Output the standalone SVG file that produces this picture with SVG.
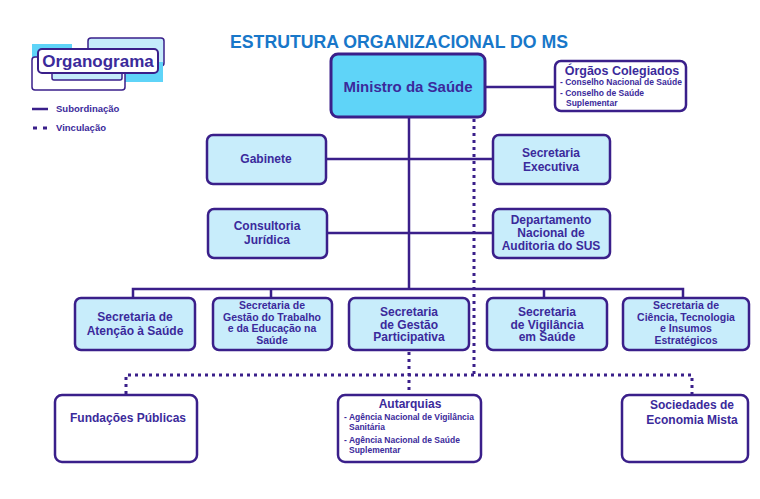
<svg xmlns="http://www.w3.org/2000/svg" width="760" height="499" viewBox="0 0 760 499">
<style>
text{font-family:"Liberation Sans",Arial,sans-serif;font-weight:bold;fill:#3b2a9b}
.box{fill:#c8edfb;stroke:#3a1f8a;stroke-width:2.5}
.wbox{fill:#ffffff;stroke:#3a1f8a;stroke-width:2.5}
.lbl{font-size:12px;text-anchor:middle}
.tight{font-size:10.5px;text-anchor:middle}
.small{font-size:8.5px}
.solid{stroke:#3a1f8a;stroke-width:2.5;fill:none}
.dot{stroke:#3a1f8a;stroke-width:3;fill:none;stroke-dasharray:3 4}
</style>
<rect width="760" height="499" fill="#ffffff"/>
<g id="logo">
<rect x="32" y="44" width="40" height="26" fill="#5fd4f8"/>
<rect x="88" y="38" width="76" height="28" rx="3" fill="#c5ecfb" stroke="#3a1f8a" stroke-width="1.5"/>
<rect x="113" y="62" width="50" height="20" fill="#5fd4f8"/>
<rect x="32" y="57" width="93" height="33" rx="3" fill="#ffffff" stroke="#3a1f8a" stroke-width="1.5"/>
<rect x="52" y="66" width="70" height="14" rx="2" fill="#c5ecfb" stroke="#3a1f8a" stroke-width="1.5"/>
<rect x="38" y="49" width="120" height="24" rx="4" fill="#ffffff" stroke="#3a1f8a" stroke-width="2"/>
<text x="98" y="67" font-size="17" text-anchor="middle">Organograma</text>
</g>
<g id="legend">
<line x1="32" y1="109" x2="48" y2="109" stroke="#3a1f8a" stroke-width="2.5"/>
<text x="56" y="112" font-size="9.5">Subordinação</text>
<line x1="33" y1="128" x2="48" y2="128" stroke="#3a1f8a" stroke-width="3" stroke-dasharray="4 6"/>
<text x="56" y="131" font-size="9.5">Vinculação</text>
</g>
<text id="title" x="399" y="48" font-size="18" text-anchor="middle" style="fill:#1877c9" textLength="338" lengthAdjust="spacingAndGlyphs">ESTRUTURA ORGANIZACIONAL DO MS</text>
<g id="connectors">
<line class="solid" x1="485" y1="87" x2="555" y2="87"/>
<line class="solid" x1="409" y1="117" x2="409" y2="289"/>
<line class="solid" x1="326" y1="159" x2="493" y2="159"/>
<line class="solid" x1="327" y1="233" x2="493" y2="233"/>
<polyline class="solid" points="133,298 133,289 683,289 683,298"/>
<line class="solid" x1="271" y1="289" x2="271" y2="298"/>
<line class="solid" x1="544" y1="289" x2="544" y2="298"/>
<line class="dot" x1="474" y1="119" x2="474" y2="375"/>
<line class="dot" x1="409" y1="352" x2="409" y2="394"/>
<polyline class="dot" points="126,394 126,375 692,375 692,394"/>
</g>
<g id="ministro">
<rect x="331" y="54" width="154" height="63" rx="7" fill="#5fd4f8" stroke="#3a1f8a" stroke-width="3"/>
<text x="408" y="92" font-size="15" text-anchor="middle">Ministro da Saúde</text>
</g>
<g id="orgaos">
<rect class="wbox" x="555" y="61" width="131" height="50" rx="6"/>
<text x="622" y="75" font-size="12.5" text-anchor="middle">Órgãos Colegiados</text>
<text class="small" x="560" y="85">- Conselho Nacional de Saúde</text>
<text class="small" x="560" y="96">- Conselho de Saúde</text>
<text class="small" x="566" y="106">Suplementar</text>
</g>
<g id="gabinete">
<rect class="box" x="207" y="135" width="119" height="49" rx="6"/>
<text class="lbl" x="266" y="163">Gabinete</text>
</g>
<g id="secexec">
<rect class="box" x="493" y="135" width="117" height="49" rx="6"/>
<text class="lbl" x="551" y="157">Secretaria</text>
<text class="lbl" x="551" y="171">Executiva</text>
</g>
<g id="consultoria">
<rect class="box" x="208" y="209" width="119" height="49" rx="6"/>
<text class="lbl" x="267" y="230">Consultoria</text>
<text class="lbl" x="267" y="244">Jurídica</text>
</g>
<g id="denasus">
<rect class="box" x="493" y="209" width="117" height="49" rx="6"/>
<text class="lbl" x="551" y="224">Departamento</text>
<text class="lbl" x="551" y="237">Nacional de</text>
<text class="lbl" x="551" y="250">Auditoria do SUS</text>
</g>
<g id="sas">
<rect class="box" x="75" y="298" width="120" height="52" rx="6"/>
<text class="lbl" x="135" y="321">Secretaria de</text>
<text class="lbl" x="135" y="335">Atenção à Saúde</text>
</g>
<g id="sgtes">
<rect class="box" x="213" y="298" width="119" height="52" rx="6"/>
<text class="tight" x="272" y="309">Secretaria de</text>
<text class="tight" x="272" y="320.5">Gestão do Trabalho</text>
<text class="tight" x="272" y="332">e da Educação na</text>
<text class="tight" x="272" y="343.5">Saúde</text>
</g>
<g id="sgep">
<rect class="box" x="349" y="298" width="120" height="52" rx="6"/>
<text class="lbl" x="409" y="316">Secretaria</text>
<text class="lbl" x="409" y="328.5">de Gestão</text>
<text class="lbl" x="409" y="341">Participativa</text>
</g>
<g id="svs">
<rect class="box" x="487" y="298" width="120" height="52" rx="6"/>
<text class="lbl" x="547" y="316">Secretaria</text>
<text class="lbl" x="547" y="328.5">de Vigilância</text>
<text class="lbl" x="547" y="341">em Saúde</text>
</g>
<g id="sctie">
<rect class="box" x="623" y="298" width="126" height="52" rx="6"/>
<text class="tight" x="686" y="309">Secretaria de</text>
<text class="tight" x="686" y="320.5">Ciência, Tecnologia</text>
<text class="tight" x="686" y="332">e Insumos</text>
<text class="tight" x="686" y="343.5">Estratégicos</text>
</g>
<g id="fundacoes">
<rect class="wbox" x="55" y="395" width="142" height="67" rx="7"/>
<text class="lbl" x="128" y="422">Fundações Públicas</text>
</g>
<g id="autarquias">
<rect class="wbox" x="338" y="395" width="143" height="67" rx="7"/>
<text class="lbl" x="410" y="408">Autarquias</text>
<text class="small" x="344" y="420">- Agência Nacional de Vigilância</text>
<text class="small" x="349" y="430">Sanitária</text>
<text class="small" x="344" y="443">- Agência Nacional de Saúde</text>
<text class="small" x="349" y="453">Suplementar</text>
</g>
<g id="sociedades">
<rect class="wbox" x="622" y="395" width="126" height="67" rx="7"/>
<text class="lbl" x="692" y="409">Sociedades de</text>
<text class="lbl" x="692" y="424">Economia Mista</text>
</g>
</svg>
